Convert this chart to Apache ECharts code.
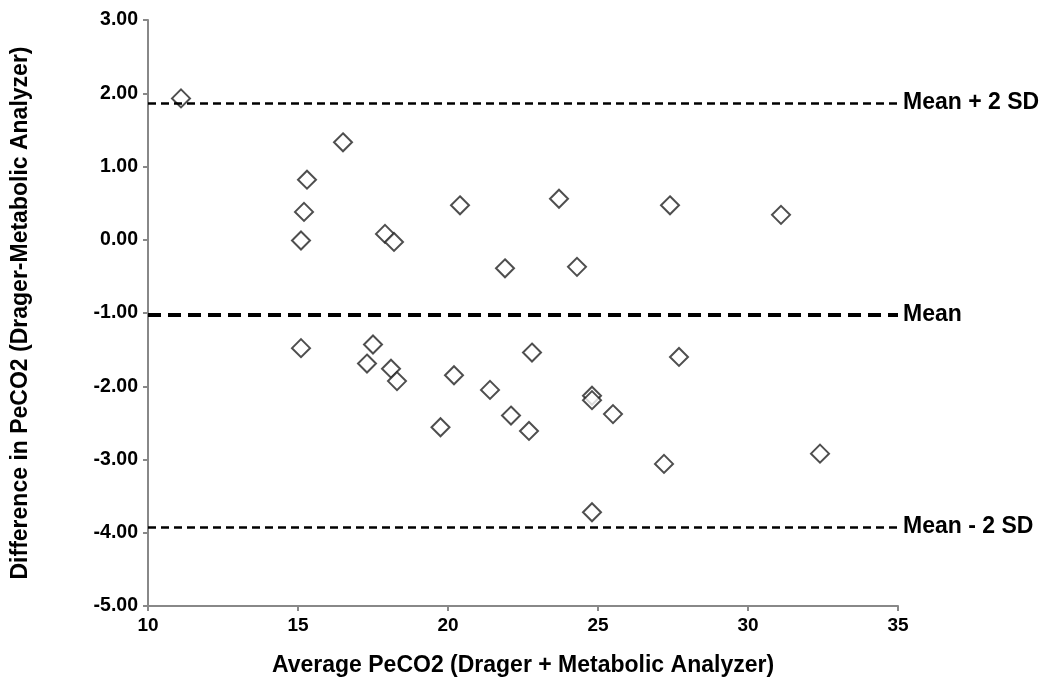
<!doctype html>
<html lang="en">
<head>
    <meta charset="UTF-8">
    <title>Bland-Altman PeCO2</title>
    <style>
        html, body { margin: 0; padding: 0; background: #fff; }
    </style>
</head>
<body>
    <div id="main" style="width: 1049px;height:689px;"></div>
    <script src="https://cdn.jsdelivr.net/npm/echarts@6/dist/echarts.min.js"></script>
    <script>
        // average PeCO2 (x) and difference (y)
        var avgPeCO2 = [11.1, 16.5, 15.3, 15.2, 15.1, 17.9, 18.2, 20.4, 23.7, 27.4, 31.1, 21.9, 24.3,
                        15.1, 17.5, 17.3, 18.1, 18.3, 20.2, 19.75, 21.4, 22.8, 27.7, 24.8, 24.8, 25.5,
                        22.1, 22.7, 27.2, 32.4, 24.8];
        var diffPeCO2 = [1.93, 1.33, 0.82, 0.38, -0.01, 0.08, -0.03, 0.47, 0.56, 0.47, 0.34, -0.39, -0.37,
                         -1.48, -1.43, -1.69, -1.76, -1.93, -1.85, -2.56, -2.05, -1.54, -1.60, -2.13, -2.19, -2.38,
                         -2.40, -2.61, -3.06, -2.92, -3.72];
        var meanDiff = -1.02;
        var upperLimit = 1.87;
        var lowerLimit = -3.92;
        var yTicks = [-5, -4, -3, -2, -1, 0, 1, 2, 3];

        var points = avgPeCO2.map(function (x, i) { return [x, diffPeCO2[i]]; });

        var myChart = echarts.init(document.getElementById('main'));
        var font = 'Liberation Sans, Arial, sans-serif';

        var option = {
            animation: false,
            grid: { left: 148, right: 151, top: 20, bottom: 83 },
            xAxis: {
                type: 'value',
                min: 10, max: 35, interval: 5,
                name: 'Average PeCO2 (Drager + Metabolic Analyzer)',
                nameLocation: 'middle',
                nameGap: 48,
                nameTextStyle: { color: '#000', fontFamily: font, fontWeight: 'bold', fontSize: 23 },
                axisLine: { onZero: false, lineStyle: { color: '#888', width: 2 } },
                axisTick: { show: true, length: 5, lineStyle: { color: '#888', width: 2 } },
                axisLabel: { color: '#000', fontFamily: font, fontWeight: 'bold', fontSize: 19, margin: 10 },
                splitLine: { show: false }
            },
            yAxis: {
                type: 'value',
                min: yTicks[0], max: yTicks[yTicks.length - 1], interval: 1,
                name: 'Difference in PeCO2 (Drager-Metabolic Analyzer)',
                nameLocation: 'middle',
                nameGap: 116,
                nameTextStyle: { color: '#000', fontFamily: font, fontWeight: 'bold', fontSize: 23 },
                axisLine: { show: true, onZero: false, lineStyle: { color: '#888', width: 2 } },
                axisTick: { show: true, length: 5, lineStyle: { color: '#888', width: 2 } },
                axisLabel: {
                    color: '#000', fontFamily: font, fontWeight: 'bold', fontSize: 19.5, margin: 10,
                    formatter: function (v) { return v.toFixed(2); }
                },
                splitLine: { show: false }
            },
            series: [{
                type: 'scatter',
                data: points,
                symbol: 'diamond',
                symbolSize: 18,
                itemStyle: { color: '#fff', borderColor: '#222', borderWidth: 2 },
                markLine: {
                    silent: true,
                    symbol: 'none',
                    label: {
                        show: true, position: 'end', distance: 5,
                        color: '#000', fontFamily: font, fontWeight: 'bold', fontSize: 23
                    },
                    data: [
                        { yAxis: upperLimit, label: { formatter: 'Mean + 2 SD' },
                          lineStyle: { color: '#000', type: [8, 5], width: 2.5 } },
                        { yAxis: meanDiff, label: { formatter: 'Mean' },
                          lineStyle: { color: '#000', type: [13, 7], width: 4 } },
                        { yAxis: lowerLimit, label: { formatter: 'Mean - 2 SD' },
                          lineStyle: { color: '#000', type: [8, 5], width: 2.5 } }
                    ]
                }
            }]
        };

        myChart.setOption(option);
    </script>
</body>
</html>
